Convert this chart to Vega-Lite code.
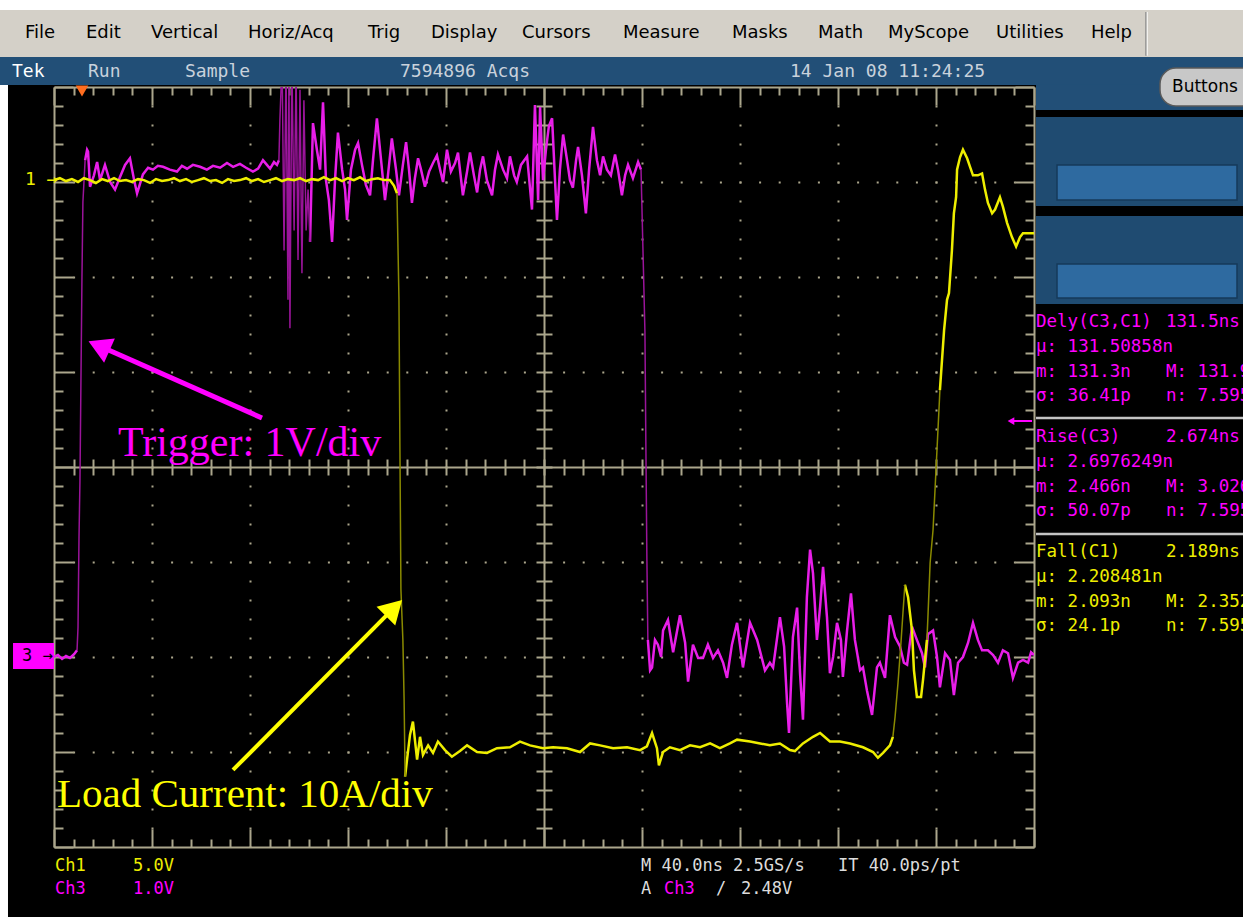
{
 "$schema": "https://vega.github.io/schema/vega-lite/v6.json",
 "width": 980, "height": 760,
 "autosize": {"type": "none"},
 "padding": {"left": 54, "top": 87, "right": 209, "bottom": 70},
 "background": "#000000",
 "data": {"values": [{}]},
 "config": {
  "view": {"stroke": null, "fill": "#000000"},
  "axis": {"domain": false, "ticks": false, "labels": false, "grid": false, "titleOpacity": 0},
  "text": {"font": "DejaVu Sans Mono", "fontSize": 18, "align": "left", "baseline": "middle"}
 },
 "datasets": {
  "ch1": [
   {"seg":1,"edge":false,"t":0,"v":3.02},{"seg":1,"edge":false,"t":2.4,"v":3.04},{"seg":1,"edge":false,"t":4.9,"v":3.01},{"seg":1,"edge":false,"t":7.3,"v":3.03},{"seg":1,"edge":false,"t":9.8,"v":3.0},{"seg":1,"edge":false,"t":12.2,"v":3.04},{"seg":1,"edge":false,"t":14.7,"v":3.02},{"seg":1,"edge":false,"t":17.1,"v":2.99},{"seg":1,"edge":false,"t":19.6,"v":3.03},{"seg":1,"edge":false,"t":22.0,"v":3.01},{"seg":1,"edge":false,"t":24.5,"v":3.04},{"seg":1,"edge":false,"t":26.9,"v":3.01},{"seg":1,"edge":false,"t":29.4,"v":3.02},{"seg":1,"edge":false,"t":31.8,"v":3.0},{"seg":1,"edge":false,"t":34.3,"v":3.03},{"seg":1,"edge":false,"t":36.7,"v":3.02},{"seg":1,"edge":false,"t":39.2,"v":2.99},{"seg":1,"edge":false,"t":41.6,"v":3.03},{"seg":1,"edge":false,"t":44.1,"v":3.01},{"seg":1,"edge":false,"t":46.5,"v":3.02},{"seg":1,"edge":false,"t":49.0,"v":3.04},{"seg":1,"edge":false,"t":51.4,"v":3.01},{"seg":1,"edge":false,"t":53.9,"v":3.03},{"seg":1,"edge":false,"t":56.3,"v":3.0},{"seg":1,"edge":false,"t":58.8,"v":3.02},{"seg":1,"edge":false,"t":61.2,"v":3.04},{"seg":1,"edge":false,"t":63.7,"v":3.01},{"seg":1,"edge":false,"t":66.1,"v":3.02},{"seg":1,"edge":false,"t":68.6,"v":2.99},{"seg":1,"edge":false,"t":71.0,"v":3.03},{"seg":1,"edge":false,"t":73.5,"v":3.01},{"seg":1,"edge":false,"t":75.9,"v":3.02},{"seg":1,"edge":false,"t":78.4,"v":3.04},{"seg":1,"edge":false,"t":80.8,"v":3.01},{"seg":1,"edge":false,"t":83.3,"v":3.03},{"seg":1,"edge":false,"t":85.7,"v":3.0},{"seg":1,"edge":false,"t":88.2,"v":3.02},{"seg":1,"edge":false,"t":90.6,"v":3.04},{"seg":1,"edge":false,"t":93.1,"v":3.01},{"seg":1,"edge":false,"t":95.5,"v":3.03},{"seg":1,"edge":false,"t":98.0,"v":3.02},{"seg":1,"edge":false,"t":100.4,"v":3.04},{"seg":1,"edge":false,"t":102.9,"v":3.01},{"seg":1,"edge":false,"t":105.3,"v":3.03},{"seg":1,"edge":false,"t":107.8,"v":3.02},{"seg":1,"edge":false,"t":110.2,"v":3.05},{"seg":1,"edge":false,"t":112.7,"v":3.02},{"seg":1,"edge":false,"t":115.1,"v":3.04},{"seg":1,"edge":false,"t":117.6,"v":3.01},{"seg":1,"edge":false,"t":120.0,"v":3.04},{"seg":1,"edge":false,"t":122.4,"v":3.02},{"seg":1,"edge":false,"t":124.9,"v":3.05},{"seg":1,"edge":false,"t":127.3,"v":3.01},{"seg":1,"edge":false,"t":129.8,"v":3.03},{"seg":1,"edge":false,"t":132.2,"v":3.04},{"seg":1,"edge":false,"t":134.7,"v":3.02},{"seg":1,"edge":false,"t":137.1,"v":3.02},{"seg":1,"edge":false,"t":138.8,"v":2.96},{"seg":1,"edge":false,"t":140.0,"v":2.88},
   {"seg":2,"edge":true,"t":140.0,"v":2.88},{"seg":2,"edge":true,"t":140.8,"v":1.76},{"seg":2,"edge":true,"t":141.2,"v":0.18},{"seg":2,"edge":true,"t":141.6,"v":-1.29},{"seg":2,"edge":true,"t":142.4,"v":-1.82},{"seg":2,"edge":true,"t":142.9,"v":-2.45},{"seg":2,"edge":true,"t":143.3,"v":-3.26},
   {"seg":3,"edge":false,"t":143.3,"v":-3.26},{"seg":3,"edge":false,"t":144.1,"v":-3.08},{"seg":3,"edge":false,"t":145.3,"v":-2.82},{"seg":3,"edge":false,"t":146.5,"v":-2.68},{"seg":3,"edge":false,"t":148.2,"v":-3.08},{"seg":3,"edge":false,"t":149.4,"v":-2.84},{"seg":3,"edge":false,"t":150.6,"v":-3.03},{"seg":3,"edge":false,"t":152.7,"v":-2.93},{"seg":3,"edge":false,"t":154.7,"v":-3.01},{"seg":3,"edge":false,"t":156.7,"v":-2.89},{"seg":3,"edge":false,"t":159.6,"v":-2.98},{"seg":3,"edge":false,"t":162.4,"v":-3.05},{"seg":3,"edge":false,"t":165.7,"v":-2.99},{"seg":3,"edge":false,"t":168.6,"v":-2.93},{"seg":3,"edge":false,"t":172.7,"v":-3.0},{"seg":3,"edge":false,"t":176.7,"v":-3.01},{"seg":3,"edge":false,"t":180.8,"v":-2.96},{"seg":3,"edge":false,"t":186.1,"v":-2.95},{"seg":3,"edge":false,"t":190.2,"v":-2.89},{"seg":3,"edge":false,"t":194.3,"v":-2.93},{"seg":3,"edge":false,"t":199.6,"v":-2.96},{"seg":3,"edge":false,"t":203.7,"v":-2.95},{"seg":3,"edge":false,"t":209.4,"v":-2.96},{"seg":3,"edge":false,"t":214.7,"v":-3.0},{"seg":3,"edge":false,"t":218.8,"v":-2.91},{"seg":3,"edge":false,"t":222.9,"v":-2.93},{"seg":3,"edge":false,"t":228.2,"v":-2.96},{"seg":3,"edge":false,"t":233.9,"v":-2.95},{"seg":3,"edge":false,"t":239.2,"v":-2.98},{"seg":3,"edge":false,"t":242.0,"v":-2.94},{"seg":3,"edge":false,"t":244.1,"v":-2.8},{"seg":3,"edge":false,"t":246.1,"v":-2.96},{"seg":3,"edge":false,"t":246.9,"v":-3.14},{"seg":3,"edge":false,"t":248.6,"v":-3.0},{"seg":3,"edge":false,"t":251.4,"v":-2.95},{"seg":3,"edge":false,"t":255.5,"v":-2.98},{"seg":3,"edge":false,"t":259.6,"v":-2.93},{"seg":3,"edge":false,"t":263.7,"v":-2.95},{"seg":3,"edge":false,"t":267.8,"v":-2.91},{"seg":3,"edge":false,"t":271.8,"v":-2.96},{"seg":3,"edge":false,"t":275.9,"v":-2.91},{"seg":3,"edge":false,"t":278.8,"v":-2.87},{"seg":3,"edge":false,"t":284.1,"v":-2.89},{"seg":3,"edge":false,"t":288.2,"v":-2.91},{"seg":3,"edge":false,"t":292.2,"v":-2.93},{"seg":3,"edge":false,"t":296.3,"v":-2.91},{"seg":3,"edge":false,"t":300.4,"v":-2.98},{"seg":3,"edge":false,"t":302.4,"v":-2.99},{"seg":3,"edge":false,"t":305.7,"v":-2.91},{"seg":3,"edge":false,"t":309.8,"v":-2.84},{"seg":3,"edge":false,"t":312.7,"v":-2.8},{"seg":3,"edge":false,"t":316.7,"v":-2.89},{"seg":3,"edge":false,"t":320.8,"v":-2.89},{"seg":3,"edge":false,"t":324.9,"v":-2.91},{"seg":3,"edge":false,"t":330.2,"v":-2.95},{"seg":3,"edge":false,"t":334.3,"v":-3.0},{"seg":3,"edge":false,"t":336.3,"v":-3.06},{"seg":3,"edge":false,"t":338.4,"v":-3.01},{"seg":3,"edge":false,"t":341.2,"v":-2.93},{"seg":3,"edge":false,"t":342.4,"v":-2.84},
   {"seg":4,"edge":true,"t":342.4,"v":-2.84},{"seg":4,"edge":true,"t":343.3,"v":-2.63},{"seg":4,"edge":true,"t":344.5,"v":-2.27},{"seg":4,"edge":true,"t":345.7,"v":-1.85},{"seg":4,"edge":true,"t":346.5,"v":-1.54},{"seg":4,"edge":true,"t":347.3,"v":-1.24},
   {"seg":5,"edge":false,"t":347.3,"v":-1.24},{"seg":5,"edge":false,"t":348.6,"v":-1.37},{"seg":5,"edge":false,"t":350.2,"v":-1.72},{"seg":5,"edge":false,"t":351.0,"v":-2.14},{"seg":5,"edge":false,"t":352.2,"v":-2.42},{"seg":5,"edge":false,"t":353.9,"v":-2.42},{"seg":5,"edge":false,"t":354.7,"v":-2.24},{"seg":5,"edge":false,"t":356.3,"v":-1.82},
   {"seg":6,"edge":true,"t":356.3,"v":-1.82},{"seg":6,"edge":true,"t":356.7,"v":-1.58},{"seg":6,"edge":true,"t":357.6,"v":-1.01},{"seg":6,"edge":true,"t":358.8,"v":-0.66},{"seg":6,"edge":true,"t":360.0,"v":-0.03},{"seg":6,"edge":true,"t":361.6,"v":0.81},
   {"seg":7,"edge":false,"t":361.6,"v":0.81},{"seg":7,"edge":false,"t":363.3,"v":1.44},{"seg":7,"edge":false,"t":364.5,"v":1.76},{"seg":7,"edge":false,"t":365.3,"v":1.83},{"seg":7,"edge":false,"t":366.5,"v":2.28},{"seg":7,"edge":false,"t":367.3,"v":2.67},{"seg":7,"edge":false,"t":368.2,"v":2.84},{"seg":7,"edge":false,"t":368.6,"v":3.13},{"seg":7,"edge":false,"t":369.8,"v":3.26},{"seg":7,"edge":false,"t":371.0,"v":3.34},{"seg":7,"edge":false,"t":372.7,"v":3.25},{"seg":7,"edge":false,"t":373.9,"v":3.16},{"seg":7,"edge":false,"t":375.1,"v":3.07},{"seg":7,"edge":false,"t":377.1,"v":3.07},{"seg":7,"edge":false,"t":378.8,"v":3.09},{"seg":7,"edge":false,"t":380.0,"v":2.92},{"seg":7,"edge":false,"t":381.2,"v":2.78},{"seg":7,"edge":false,"t":382.9,"v":2.67},{"seg":7,"edge":false,"t":384.1,"v":2.71},{"seg":7,"edge":false,"t":386.1,"v":2.84},{"seg":7,"edge":false,"t":387.3,"v":2.74},{"seg":7,"edge":false,"t":389.0,"v":2.57},{"seg":7,"edge":false,"t":391.0,"v":2.42},{"seg":7,"edge":false,"t":392.7,"v":2.32},{"seg":7,"edge":false,"t":394.3,"v":2.42},{"seg":7,"edge":false,"t":395.5,"v":2.46},{"seg":7,"edge":false,"t":398.4,"v":2.46},{"seg":7,"edge":false,"t":400,"v":2.46}
  ],
  "ch3": [
   {"seg":1,"edge":false,"t":0,"v":-2.0},{"seg":1,"edge":false,"t":1.6,"v":-1.98},{"seg":1,"edge":false,"t":3.3,"v":-2.02},{"seg":1,"edge":false,"t":4.9,"v":-1.99},{"seg":1,"edge":false,"t":6.5,"v":-2.01},{"seg":1,"edge":false,"t":8.2,"v":-1.97},{"seg":1,"edge":false,"t":9.4,"v":-1.93},
   {"seg":2,"edge":true,"t":9.4,"v":-1.93},{"seg":2,"edge":true,"t":9.8,"v":-1.69},{"seg":2,"edge":true,"t":10.2,"v":-0.75},{"seg":2,"edge":true,"t":10.6,"v":-0.14},{"seg":2,"edge":true,"t":11.4,"v":1.97},{"seg":2,"edge":true,"t":11.8,"v":2.79},{"seg":2,"edge":true,"t":12.7,"v":3.23},
   {"seg":3,"edge":false,"t":12.7,"v":3.23},{"seg":3,"edge":false,"t":13.5,"v":3.34},{"seg":3,"edge":false,"t":13.9,"v":3.32},{"seg":3,"edge":false,"t":14.7,"v":2.95},{"seg":3,"edge":false,"t":16.3,"v":3.07},{"seg":3,"edge":false,"t":17.6,"v":3.21},{"seg":3,"edge":false,"t":18.8,"v":3.02},{"seg":3,"edge":false,"t":20.8,"v":3.18},{"seg":3,"edge":false,"t":22.9,"v":3.0},{"seg":3,"edge":false,"t":24.9,"v":2.92},{"seg":3,"edge":false,"t":26.9,"v":3.05},{"seg":3,"edge":false,"t":29.0,"v":3.18},{"seg":3,"edge":false,"t":31.0,"v":3.25},{"seg":3,"edge":false,"t":32.7,"v":3.02},{"seg":3,"edge":false,"t":33.9,"v":2.88},{"seg":3,"edge":false,"t":36.3,"v":3.08},{"seg":3,"edge":false,"t":38.4,"v":3.15},{"seg":3,"edge":false,"t":40.4,"v":3.13},{"seg":3,"edge":false,"t":42.4,"v":3.17},{"seg":3,"edge":false,"t":44.5,"v":3.16},{"seg":3,"edge":false,"t":47.3,"v":3.13},{"seg":3,"edge":false,"t":50.2,"v":3.11},{"seg":3,"edge":false,"t":52.2,"v":3.17},{"seg":3,"edge":false,"t":54.3,"v":3.14},{"seg":3,"edge":false,"t":56.7,"v":3.18},{"seg":3,"edge":false,"t":59.6,"v":3.16},{"seg":3,"edge":false,"t":62.4,"v":3.13},{"seg":3,"edge":false,"t":64.9,"v":3.17},{"seg":3,"edge":false,"t":67.8,"v":3.15},{"seg":3,"edge":false,"t":70.6,"v":3.2},{"seg":3,"edge":false,"t":73.1,"v":3.16},{"seg":3,"edge":false,"t":75.9,"v":3.19},{"seg":3,"edge":false,"t":78.4,"v":3.15},{"seg":3,"edge":false,"t":81.2,"v":3.11},{"seg":3,"edge":false,"t":83.3,"v":3.14},{"seg":3,"edge":false,"t":85.3,"v":3.23},{"seg":3,"edge":false,"t":86.9,"v":3.18},{"seg":3,"edge":false,"t":88.2,"v":3.14},{"seg":3,"edge":false,"t":89.8,"v":3.21},{"seg":3,"edge":false,"t":91.0,"v":3.18},{"seg":3,"edge":false,"t":91.8,"v":3.23},
   {"seg":4,"edge":true,"t":91.8,"v":3.23},{"seg":4,"edge":true,"t":92.2,"v":3.65},{"seg":4,"edge":true,"t":93.1,"v":4.28},{"seg":4,"edge":true,"t":93.9,"v":2.28},{"seg":4,"edge":true,"t":94.7,"v":4.28},{"seg":4,"edge":true,"t":95.5,"v":1.76},{"seg":4,"edge":true,"t":95.9,"v":4.28},{"seg":4,"edge":true,"t":96.3,"v":1.46},{"seg":4,"edge":true,"t":97.1,"v":4.28},{"seg":4,"edge":true,"t":98.0,"v":2.49},{"seg":4,"edge":true,"t":98.8,"v":4.18},{"seg":4,"edge":true,"t":99.6,"v":2.18},{"seg":4,"edge":true,"t":100.4,"v":3.97},{"seg":4,"edge":true,"t":101.2,"v":2.04},{"seg":4,"edge":true,"t":102.0,"v":3.86},{"seg":4,"edge":true,"t":102.9,"v":2.49},{"seg":4,"edge":true,"t":103.7,"v":2.92},{"seg":4,"edge":true,"t":104.5,"v":2.37},
   {"seg":5,"edge":false,"t":104.5,"v":2.37},{"seg":5,"edge":false,"t":105.7,"v":3.62},{"seg":5,"edge":false,"t":107.3,"v":3.34},{"seg":5,"edge":false,"t":108.6,"v":3.13},{"seg":5,"edge":false,"t":109.8,"v":3.84},{"seg":5,"edge":false,"t":111.0,"v":3.02},{"seg":5,"edge":false,"t":112.2,"v":2.81},{"seg":5,"edge":false,"t":113.5,"v":2.37},{"seg":5,"edge":false,"t":114.7,"v":3.02},{"seg":5,"edge":false,"t":115.9,"v":3.52},{"seg":5,"edge":false,"t":117.6,"v":3.13},{"seg":5,"edge":false,"t":118.8,"v":2.92},{"seg":5,"edge":false,"t":119.6,"v":2.6},{"seg":5,"edge":false,"t":121.2,"v":3.13},{"seg":5,"edge":false,"t":122.9,"v":3.34},{"seg":5,"edge":false,"t":124.1,"v":3.41},{"seg":5,"edge":false,"t":125.7,"v":3.18},{"seg":5,"edge":false,"t":127.3,"v":2.97},{"seg":5,"edge":false,"t":129.0,"v":2.86},{"seg":5,"edge":false,"t":130.2,"v":3.23},{"seg":5,"edge":false,"t":131.8,"v":3.67},{"seg":5,"edge":false,"t":133.5,"v":3.23},{"seg":5,"edge":false,"t":135.1,"v":2.81},{"seg":5,"edge":false,"t":136.3,"v":3.07},{"seg":5,"edge":false,"t":137.9,"v":3.46},{"seg":5,"edge":false,"t":139.6,"v":3.13},{"seg":5,"edge":false,"t":140.8,"v":2.86},{"seg":5,"edge":false,"t":142.4,"v":3.18},{"seg":5,"edge":false,"t":143.7,"v":3.42},{"seg":5,"edge":false,"t":144.9,"v":3.13},{"seg":5,"edge":false,"t":146.1,"v":2.78},{"seg":5,"edge":false,"t":147.3,"v":3.04},{"seg":5,"edge":false,"t":148.6,"v":3.25},{"seg":5,"edge":false,"t":149.8,"v":3.13},{"seg":5,"edge":false,"t":151.4,"v":2.95},{"seg":5,"edge":false,"t":153.1,"v":3.11},{"seg":5,"edge":false,"t":154.7,"v":3.2},{"seg":5,"edge":false,"t":156.3,"v":3.28},{"seg":5,"edge":false,"t":157.6,"v":3.13},{"seg":5,"edge":false,"t":158.8,"v":3.0},{"seg":5,"edge":false,"t":160.4,"v":3.34},{"seg":5,"edge":false,"t":162.0,"v":3.11},{"seg":5,"edge":false,"t":163.7,"v":3.2},{"seg":5,"edge":false,"t":164.9,"v":3.31},{"seg":5,"edge":false,"t":166.9,"v":2.86},{"seg":5,"edge":false,"t":168.6,"v":3.11},{"seg":5,"edge":false,"t":169.8,"v":3.31},{"seg":5,"edge":false,"t":171.4,"v":3.07},{"seg":5,"edge":false,"t":172.7,"v":2.89},{"seg":5,"edge":false,"t":173.9,"v":3.13},{"seg":5,"edge":false,"t":175.1,"v":3.27},{"seg":5,"edge":false,"t":176.7,"v":3.02},{"seg":5,"edge":false,"t":178.8,"v":2.86},{"seg":5,"edge":false,"t":180.0,"v":3.13},{"seg":5,"edge":false,"t":181.2,"v":3.29},{"seg":5,"edge":false,"t":183.3,"v":3.13},{"seg":5,"edge":false,"t":184.9,"v":3.04},{"seg":5,"edge":false,"t":186.1,"v":3.27},{"seg":5,"edge":false,"t":187.8,"v":3.07},{"seg":5,"edge":false,"t":188.9,"v":3.0},{"seg":5,"edge":false,"t":190.6,"v":3.18},{"seg":5,"edge":false,"t":193.1,"v":3.27},{"seg":5,"edge":false,"t":195.1,"v":2.71},{"seg":5,"edge":false,"t":196.3,"v":3.81},{"seg":5,"edge":false,"t":197.6,"v":2.81},{"seg":5,"edge":false,"t":198.4,"v":3.79},{"seg":5,"edge":false,"t":199.6,"v":3.02},{"seg":5,"edge":false,"t":200.8,"v":3.34},{"seg":5,"edge":false,"t":202.0,"v":3.59},{"seg":5,"edge":false,"t":203.3,"v":3.67},{"seg":5,"edge":false,"t":204.5,"v":3.02},{"seg":5,"edge":false,"t":205.3,"v":2.6},{"seg":5,"edge":false,"t":206.5,"v":3.13},{"seg":5,"edge":false,"t":207.8,"v":3.5},{"seg":5,"edge":false,"t":209.4,"v":3.23},{"seg":5,"edge":false,"t":210.6,"v":3.02},{"seg":5,"edge":false,"t":211.8,"v":2.94},{"seg":5,"edge":false,"t":213.1,"v":3.23},{"seg":5,"edge":false,"t":213.9,"v":3.37},{"seg":5,"edge":false,"t":215.5,"v":3.07},{"seg":5,"edge":false,"t":217.1,"v":2.67},{"seg":5,"edge":false,"t":218.4,"v":3.13},{"seg":5,"edge":false,"t":220.0,"v":3.58},{"seg":5,"edge":false,"t":221.6,"v":3.23},{"seg":5,"edge":false,"t":222.9,"v":3.07},{"seg":5,"edge":false,"t":224.1,"v":3.27},{"seg":5,"edge":false,"t":225.7,"v":3.13},{"seg":5,"edge":false,"t":227.3,"v":3.07},{"seg":5,"edge":false,"t":229.0,"v":3.29},{"seg":5,"edge":false,"t":230.2,"v":3.13},{"seg":5,"edge":false,"t":231.8,"v":2.86},{"seg":5,"edge":false,"t":233.1,"v":3.07},{"seg":5,"edge":false,"t":234.3,"v":3.18},{"seg":5,"edge":false,"t":236.3,"v":3.04},{"seg":5,"edge":false,"t":238.4,"v":3.21},{"seg":5,"edge":false,"t":239.6,"v":3.13},
   {"seg":6,"edge":true,"t":239.6,"v":3.13},{"seg":6,"edge":true,"t":240.4,"v":2.28},{"seg":6,"edge":true,"t":241.2,"v":1.42},{"seg":6,"edge":true,"t":241.6,"v":0.18},{"seg":6,"edge":true,"t":242.0,"v":-0.98},{"seg":6,"edge":true,"t":242.4,"v":-1.82},
   {"seg":7,"edge":false,"t":242.4,"v":-1.82},{"seg":7,"edge":false,"t":243.3,"v":-2.14},{"seg":7,"edge":false,"t":244.1,"v":-2.11},{"seg":7,"edge":false,"t":245.3,"v":-1.82},{"seg":7,"edge":false,"t":246.5,"v":-1.87},{"seg":7,"edge":false,"t":247.8,"v":-2.0},{"seg":7,"edge":false,"t":248.6,"v":-1.72},{"seg":7,"edge":false,"t":250.6,"v":-1.61},{"seg":7,"edge":false,"t":252.7,"v":-1.95},{"seg":7,"edge":false,"t":255.5,"v":-1.56},{"seg":7,"edge":false,"t":257.6,"v":-1.85},{"seg":7,"edge":false,"t":258.8,"v":-2.26},{"seg":7,"edge":false,"t":260.8,"v":-1.87},{"seg":7,"edge":false,"t":262.9,"v":-2.01},{"seg":7,"edge":false,"t":264.9,"v":-2.01},{"seg":7,"edge":false,"t":266.9,"v":-1.87},{"seg":7,"edge":false,"t":269.0,"v":-2.01},{"seg":7,"edge":false,"t":271.0,"v":-1.93},{"seg":7,"edge":false,"t":273.1,"v":-2.06},{"seg":7,"edge":false,"t":274.7,"v":-2.22},{"seg":7,"edge":false,"t":276.7,"v":-1.87},{"seg":7,"edge":false,"t":278.8,"v":-1.64},{"seg":7,"edge":false,"t":281.2,"v":-2.11},{"seg":7,"edge":false,"t":284.1,"v":-1.64},{"seg":7,"edge":false,"t":287.0,"v":-1.82},{"seg":7,"edge":false,"t":290.2,"v":-2.14},{"seg":7,"edge":false,"t":292.2,"v":-2.06},{"seg":7,"edge":false,"t":293.5,"v":-2.11},{"seg":7,"edge":false,"t":296.3,"v":-1.58},{"seg":7,"edge":false,"t":298.0,"v":-1.89},{"seg":7,"edge":false,"t":299.2,"v":-2.48},{"seg":7,"edge":false,"t":300.0,"v":-2.8},{"seg":7,"edge":false,"t":301.6,"v":-1.79},{"seg":7,"edge":false,"t":303.3,"v":-1.48},{"seg":7,"edge":false,"t":304.5,"v":-2.17},{"seg":7,"edge":false,"t":305.7,"v":-2.66},{"seg":7,"edge":false,"t":307.3,"v":-1.37},{"seg":7,"edge":false,"t":308.6,"v":-0.87},{"seg":7,"edge":false,"t":309.8,"v":-1.12},{"seg":7,"edge":false,"t":311.4,"v":-1.82},{"seg":7,"edge":false,"t":312.7,"v":-1.47},{"seg":7,"edge":false,"t":313.9,"v":-1.05},{"seg":7,"edge":false,"t":315.5,"v":-1.58},{"seg":7,"edge":false,"t":316.7,"v":-2.17},{"seg":7,"edge":false,"t":318.0,"v":-2.0},{"seg":7,"edge":false,"t":319.6,"v":-1.64},{"seg":7,"edge":false,"t":321.2,"v":-1.82},{"seg":7,"edge":false,"t":322.0,"v":-2.21},{"seg":7,"edge":false,"t":323.7,"v":-1.72},{"seg":7,"edge":false,"t":325.3,"v":-1.33},{"seg":7,"edge":false,"t":326.9,"v":-1.82},{"seg":7,"edge":false,"t":329.0,"v":-2.14},{"seg":7,"edge":false,"t":330.2,"v":-2.11},{"seg":7,"edge":false,"t":331.8,"v":-2.35},{"seg":7,"edge":false,"t":333.9,"v":-2.61},{"seg":7,"edge":false,"t":335.9,"v":-2.11},{"seg":7,"edge":false,"t":337.1,"v":-2.06},{"seg":7,"edge":false,"t":339.2,"v":-2.22},{"seg":7,"edge":false,"t":341.2,"v":-1.56},{"seg":7,"edge":false,"t":343.3,"v":-1.79},{"seg":7,"edge":false,"t":345.3,"v":-1.89},{"seg":7,"edge":false,"t":346.9,"v":-2.06},{"seg":7,"edge":false,"t":348.2,"v":-2.08},{"seg":7,"edge":false,"t":350.2,"v":-1.68},{"seg":7,"edge":false,"t":352.2,"v":-1.82},{"seg":7,"edge":false,"t":354.3,"v":-1.96},{"seg":7,"edge":false,"t":355.5,"v":-2.11},{"seg":7,"edge":false,"t":356.7,"v":-1.76},{"seg":7,"edge":false,"t":358.8,"v":-1.72},{"seg":7,"edge":false,"t":360.4,"v":-2.0},{"seg":7,"edge":false,"t":361.6,"v":-2.32},{"seg":7,"edge":false,"t":363.7,"v":-1.96},{"seg":7,"edge":false,"t":365.7,"v":-2.03},{"seg":7,"edge":false,"t":367.3,"v":-2.4},{"seg":7,"edge":false,"t":369.0,"v":-2.06},{"seg":7,"edge":false,"t":371.0,"v":-2.0},{"seg":7,"edge":false,"t":373.1,"v":-1.85},{"seg":7,"edge":false,"t":375.1,"v":-1.64},{"seg":7,"edge":false,"t":377.1,"v":-1.82},{"seg":7,"edge":false,"t":378.8,"v":-1.93},{"seg":7,"edge":false,"t":381.2,"v":-1.93},{"seg":7,"edge":false,"t":383.3,"v":-1.98},{"seg":7,"edge":false,"t":385.3,"v":-2.06},{"seg":7,"edge":false,"t":387.3,"v":-1.93},{"seg":7,"edge":false,"t":389.4,"v":-1.96},{"seg":7,"edge":false,"t":391.4,"v":-2.22},{"seg":7,"edge":false,"t":393.5,"v":-2.06},{"seg":7,"edge":false,"t":395.5,"v":-2.03},{"seg":7,"edge":false,"t":397.6,"v":-2.06},{"seg":7,"edge":false,"t":398.8,"v":-1.95},{"seg":7,"edge":false,"t":400,"v":-1.98}
  ]
 },
 "resolve": {"axis": {"x": "independent", "y": "independent"}},
 "layer": [
  {"mark": {"type": "point", "opacity": 0},
   "encoding": {
    "x": {"datum": 0, "type": "quantitative", "scale": {"domain": [0, 400], "nice": false, "zero": false},
          "axis": {"orient": "bottom", "offset": 0, "values": [40,80,120,160,240,280,320,360], "grid": true, "gridColor": "#aba68c", "gridWidth": 2, "gridDash": [2, 17], "gridDashOffset": 1, "domain": false, "ticks": false, "labels": false, "title": null}},
    "y": {"datum": 0, "type": "quantitative", "scale": {"domain": [-4, 4], "nice": false, "zero": false},
          "axis": {"orient": "left", "offset": 0, "values": [-3,-2,-1,1,2,3], "grid": true, "gridColor": "#aba68c", "gridWidth": 2, "gridDash": [2, 17.6], "gridDashOffset": 1, "domain": false, "ticks": false, "labels": false, "title": null}}}},
  {"mark": {"type": "point", "opacity": 0},
   "encoding": {
    "x": {"datum": 0, "type": "quantitative", "scale": {"domain": [0, 400], "nice": false, "zero": false},
          "axis": {"orient": "bottom", "offset": -760, "values": [0,8,16,24,32,40,48,56,64,72,80,88,96,104,112,120,128,136,144,152,160,168,176,184,192,200,208,216,224,232,240,248,256,264,272,280,288,296,304,312,320,328,336,344,352,360,368,376,384,392,400], "domain": true, "domainColor": "#aba68c", "domainWidth": 2, "ticks": true, "tickColor": "#aba68c", "tickWidth": 2, "tickSize": {"condition": {"test": "datum.value % 40 === 0", "value": 18}, "value": 8}, "labels": false, "grid": false, "title": null}},
    "y": {"datum": 0, "type": "quantitative", "scale": {"domain": [-4, 4], "nice": false, "zero": false},
          "axis": {"orient": "left", "offset": -980, "values": [-4,-3.8,-3.6,-3.4,-3.2,-3,-2.8,-2.6,-2.4,-2.2,-2,-1.8,-1.6,-1.4,-1.2,-1,-0.8,-0.6,-0.4,-0.2,0,0.2,0.4,0.6,0.8,1,1.2,1.4,1.6,1.8,2,2.2,2.4,2.6,2.8,3,3.2,3.4,3.6,3.8,4], "domain": true, "domainColor": "#aba68c", "domainWidth": 2, "ticks": true, "tickColor": "#aba68c", "tickWidth": 2, "tickSize": {"condition": {"test": "abs(datum.value - round(datum.value)) < 0.01", "value": 19}, "value": 9}, "labels": false, "grid": false, "title": null}}}},
  {"mark": {"type": "point", "opacity": 0},
   "encoding": {
    "x": {"datum": 0, "type": "quantitative", "scale": {"domain": [0, 400], "nice": false, "zero": false},
          "axis": {"orient": "top", "offset": -760, "values": [0,8,16,24,32,40,48,56,64,72,80,88,96,104,112,120,128,136,144,152,160,168,176,184,192,200,208,216,224,232,240,248,256,264,272,280,288,296,304,312,320,328,336,344,352,360,368,376,384,392,400], "domain": true, "domainColor": "#aba68c", "domainWidth": 2, "ticks": true, "tickColor": "#aba68c", "tickWidth": 2, "tickSize": {"condition": {"test": "datum.value % 40 === 0", "value": 18}, "value": 8}, "labels": false, "grid": false, "title": null}},
    "y": {"datum": 0, "type": "quantitative", "scale": {"domain": [-4, 4], "nice": false, "zero": false},
          "axis": {"orient": "right", "offset": -980, "values": [-4,-3.8,-3.6,-3.4,-3.2,-3,-2.8,-2.6,-2.4,-2.2,-2,-1.8,-1.6,-1.4,-1.2,-1,-0.8,-0.6,-0.4,-0.2,0,0.2,0.4,0.6,0.8,1,1.2,1.4,1.6,1.8,2,2.2,2.4,2.6,2.8,3,3.2,3.4,3.6,3.8,4], "domain": true, "domainColor": "#aba68c", "domainWidth": 2, "ticks": true, "tickColor": "#aba68c", "tickWidth": 2, "tickSize": {"condition": {"test": "abs(datum.value - round(datum.value)) < 0.01", "value": 19}, "value": 9}, "labels": false, "grid": false, "title": null}}}},
  {"mark": {"type": "point", "opacity": 0},
   "encoding": {
    "x": {"datum": 0, "type": "quantitative", "scale": {"domain": [0, 400], "nice": false, "zero": false},
          "axis": {"orient": "bottom", "offset": -380, "values": [8,16,24,32,40,48,56,64,72,80,88,96,104,112,120,128,136,144,152,160,168,176,184,192,200,208,216,224,232,240,248,256,264,272,280,288,296,304,312,320,328,336,344,352,360,368,376,384,392], "domain": true, "domainColor": "#aba68c", "domainWidth": 2, "ticks": true, "tickColor": "#aba68c", "tickWidth": 2, "tickSize": 8, "labels": false, "grid": false, "title": null}},
    "y": {"datum": 0, "type": "quantitative", "scale": {"domain": [-4, 4], "nice": false, "zero": false},
          "axis": {"orient": "left", "offset": -490, "values": [-3.8,-3.6,-3.4,-3.2,-3,-2.8,-2.6,-2.4,-2.2,-2,-1.8,-1.6,-1.4,-1.2,-1,-0.8,-0.6,-0.4,-0.2,0,0.2,0.4,0.6,0.8,1,1.2,1.4,1.6,1.8,2,2.2,2.4,2.6,2.8,3,3.2,3.4,3.6,3.8], "domain": true, "domainColor": "#aba68c", "domainWidth": 2, "ticks": true, "tickColor": "#aba68c", "tickWidth": 2, "tickSize": 8, "labels": false, "grid": false, "title": null}}}},
  {"mark": {"type": "point", "opacity": 0},
   "encoding": {
    "x": {"datum": 0, "type": "quantitative", "scale": {"domain": [0, 400], "nice": false, "zero": false},
          "axis": {"orient": "top", "offset": -380, "values": [8,16,24,32,40,48,56,64,72,80,88,96,104,112,120,128,136,144,152,160,168,176,184,192,200,208,216,224,232,240,248,256,264,272,280,288,296,304,312,320,328,336,344,352,360,368,376,384,392], "domain": false, "ticks": true, "tickColor": "#aba68c", "tickWidth": 2, "tickSize": 8, "labels": false, "grid": false, "title": null}},
    "y": {"datum": 0, "type": "quantitative", "scale": {"domain": [-4, 4], "nice": false, "zero": false},
          "axis": {"orient": "right", "offset": -490, "values": [-3.8,-3.6,-3.4,-3.2,-3,-2.8,-2.6,-2.4,-2.2,-2,-1.8,-1.6,-1.4,-1.2,-1,-0.8,-0.6,-0.4,-0.2,0,0.2,0.4,0.6,0.8,1,1.2,1.4,1.6,1.8,2,2.2,2.4,2.6,2.8,3,3.2,3.4,3.6,3.8], "domain": false, "ticks": true, "tickColor": "#aba68c", "tickWidth": 2, "tickSize": 8, "labels": false, "grid": false, "title": null}}}},
  {"layer": [
   {"mark": {"type": "rect", "color": "#ffffff"}, "encoding": {"x": {"datum": -23, "type": "quantitative"}, "x2": {"datum": 486}, "y": {"datum": 5.0, "type": "quantitative"}, "y2": {"datum": 4.811}}},
   {"mark": {"type": "rect", "color": "#d4d0c8"}, "encoding": {"x": {"datum": -23, "type": "quantitative"}, "x2": {"datum": 486}, "y": {"datum": 4.811, "type": "quantitative"}, "y2": {"datum": 4.316}}},
   {"mark": {"type": "rect", "color": "#224f77"}, "encoding": {"x": {"datum": -23, "type": "quantitative"}, "x2": {"datum": 486}, "y": {"datum": 4.316, "type": "quantitative"}, "y2": {"datum": 4.021}}},
   {"mark": {"type": "rect", "color": "#224f77"}, "encoding": {"x": {"datum": 400.82, "type": "quantitative"}, "x2": {"datum": 486}, "y": {"datum": 4.03, "type": "quantitative"}, "y2": {"datum": 3.758}}},
   {"mark": {"type": "rect", "color": "#ffffff"}, "encoding": {"x": {"datum": -23, "type": "quantitative"}, "x2": {"datum": -18.78}, "y": {"datum": 4.021, "type": "quantitative"}, "y2": {"datum": -4.8}}},
   {"mark": {"type": "rule", "color": "#8c8c8c", "strokeWidth": 1.5}, "encoding": {"x": {"datum": 445.71, "type": "quantitative"}, "y": {"datum": 4.79, "type": "quantitative"}, "y2": {"datum": 4.33}}},
   {"mark": {"type": "rule", "color": "#ffffff", "strokeWidth": 1}, "encoding": {"x": {"datum": 446.2, "type": "quantitative"}, "y": {"datum": 4.79, "type": "quantitative"}, "y2": {"datum": 4.33}}},
   {"mark": {"type": "rect", "color": "#1f4b71"}, "encoding": {"x": {"datum": 400.82, "type": "quantitative"}, "x2": {"datum": 486}, "y": {"datum": 3.684, "type": "quantitative"}, "y2": {"datum": 2.747}}},
   {"mark": {"type": "rect", "fill": "#2e6aa0", "stroke": "#163a5a", "strokeWidth": 1.5}, "encoding": {"x": {"datum": 409.39, "type": "quantitative"}, "x2": {"datum": 482.86}, "y": {"datum": 3.179, "type": "quantitative"}, "y2": {"datum": 2.811}}},
   {"mark": {"type": "rect", "color": "#1f4b71"}, "encoding": {"x": {"datum": 400.82, "type": "quantitative"}, "x2": {"datum": 486}, "y": {"datum": 2.642, "type": "quantitative"}, "y2": {"datum": 1.716}}},
   {"mark": {"type": "rect", "fill": "#2e6aa0", "stroke": "#163a5a", "strokeWidth": 1.5}, "encoding": {"x": {"datum": 409.39, "type": "quantitative"}, "x2": {"datum": 482.86}, "y": {"datum": 2.137, "type": "quantitative"}, "y2": {"datum": 1.779}}},
   {"mark": {"type": "rect", "fill": "#c8c8c8", "stroke": "#5a5a5a", "strokeWidth": 1.5, "cornerRadius": 16}, "encoding": {"x": {"datum": 451.43, "type": "quantitative"}, "x2": {"datum": 492}, "y": {"datum": 4.2, "type": "quantitative"}, "y2": {"datum": 3.8}}},
   {"mark": {"type": "rect", "color": "#ff00ff"}, "encoding": {"x": {"datum": -16.73, "type": "quantitative"}, "x2": {"datum": 0}, "y": {"datum": -1.853, "type": "quantitative"}, "y2": {"datum": -2.126}}},
   {"mark": {"type": "rule", "color": "#c4c4c4", "strokeWidth": 2.5}, "encoding": {"x": {"datum": 400.82, "type": "quantitative"}, "x2": {"datum": 486}, "y": {"datum": 0.516, "type": "quantitative"}}},
   {"mark": {"type": "rule", "color": "#c4c4c4", "strokeWidth": 2.5}, "encoding": {"x": {"datum": 400.82, "type": "quantitative"}, "x2": {"datum": 486}, "y": {"datum": -0.705, "type": "quantitative"}}}
  ]},
  {"data": {"name": "ch3"}, "transform": [{"filter": "!datum.edge"}],
   "mark": {"type": "line", "color": "#e81ee8", "strokeWidth": 2.5, "clip": true},
   "encoding": {"x": {"field": "t", "type": "quantitative", "axis": null}, "y": {"field": "v", "type": "quantitative", "axis": null}, "detail": {"field": "seg", "type": "nominal"}}},
  {"data": {"name": "ch3"}, "transform": [{"filter": "datum.edge"}],
   "mark": {"type": "line", "color": "#9a149a", "strokeWidth": 1.5, "clip": true},
   "encoding": {"x": {"field": "t", "type": "quantitative", "axis": null}, "y": {"field": "v", "type": "quantitative", "axis": null}, "detail": {"field": "seg", "type": "nominal"}}},
  {"data": {"name": "ch1"}, "transform": [{"filter": "!datum.edge"}],
   "mark": {"type": "line", "color": "#eeee00", "strokeWidth": 2.5, "clip": true},
   "encoding": {"x": {"field": "t", "type": "quantitative", "axis": null}, "y": {"field": "v", "type": "quantitative", "axis": null}, "detail": {"field": "seg", "type": "nominal"}}},
  {"data": {"name": "ch1"}, "transform": [{"filter": "datum.edge"}],
   "mark": {"type": "line", "color": "#8a8a00", "strokeWidth": 1.5, "clip": true},
   "encoding": {"x": {"field": "t", "type": "quantitative", "axis": null}, "y": {"field": "v", "type": "quantitative", "axis": null}, "detail": {"field": "seg", "type": "nominal"}}},
  {"layer": [
   {"mark": {"type": "text", "text": "File", "font": "DejaVu Sans", "fontSize": 18, "color": "#000000"}, "encoding": {"x": {"datum": -11.84, "type": "quantitative"}, "y": {"datum": 4.568, "type": "quantitative"}}},
   {"mark": {"type": "text", "text": "Edit", "font": "DejaVu Sans", "fontSize": 18, "color": "#000000"}, "encoding": {"x": {"datum": 13.06, "type": "quantitative"}, "y": {"datum": 4.568, "type": "quantitative"}}},
   {"mark": {"type": "text", "text": "Vertical", "font": "DejaVu Sans", "fontSize": 18, "color": "#000000"}, "encoding": {"x": {"datum": 39.59, "type": "quantitative"}, "y": {"datum": 4.568, "type": "quantitative"}}},
   {"mark": {"type": "text", "text": "Horiz/Acq", "font": "DejaVu Sans", "fontSize": 18, "color": "#000000"}, "encoding": {"x": {"datum": 79.18, "type": "quantitative"}, "y": {"datum": 4.568, "type": "quantitative"}}},
   {"mark": {"type": "text", "text": "Trig", "font": "DejaVu Sans", "fontSize": 18, "color": "#000000"}, "encoding": {"x": {"datum": 128.16, "type": "quantitative"}, "y": {"datum": 4.568, "type": "quantitative"}}},
   {"mark": {"type": "text", "text": "Display", "font": "DejaVu Sans", "fontSize": 18, "color": "#000000"}, "encoding": {"x": {"datum": 153.88, "type": "quantitative"}, "y": {"datum": 4.568, "type": "quantitative"}}},
   {"mark": {"type": "text", "text": "Cursors", "font": "DejaVu Sans", "fontSize": 18, "color": "#000000"}, "encoding": {"x": {"datum": 191.02, "type": "quantitative"}, "y": {"datum": 4.568, "type": "quantitative"}}},
   {"mark": {"type": "text", "text": "Measure", "font": "DejaVu Sans", "fontSize": 18, "color": "#000000"}, "encoding": {"x": {"datum": 232.24, "type": "quantitative"}, "y": {"datum": 4.568, "type": "quantitative"}}},
   {"mark": {"type": "text", "text": "Masks", "font": "DejaVu Sans", "fontSize": 18, "color": "#000000"}, "encoding": {"x": {"datum": 276.73, "type": "quantitative"}, "y": {"datum": 4.568, "type": "quantitative"}}},
   {"mark": {"type": "text", "text": "Math", "font": "DejaVu Sans", "fontSize": 18, "color": "#000000"}, "encoding": {"x": {"datum": 311.84, "type": "quantitative"}, "y": {"datum": 4.568, "type": "quantitative"}}},
   {"mark": {"type": "text", "text": "MyScope", "font": "DejaVu Sans", "fontSize": 18, "color": "#000000"}, "encoding": {"x": {"datum": 340.41, "type": "quantitative"}, "y": {"datum": 4.568, "type": "quantitative"}}},
   {"mark": {"type": "text", "text": "Utilities", "font": "DejaVu Sans", "fontSize": 18, "color": "#000000"}, "encoding": {"x": {"datum": 384.49, "type": "quantitative"}, "y": {"datum": 4.568, "type": "quantitative"}}},
   {"mark": {"type": "text", "text": "Help", "font": "DejaVu Sans", "fontSize": 18, "color": "#000000"}, "encoding": {"x": {"datum": 423.27, "type": "quantitative"}, "y": {"datum": 4.568, "type": "quantitative"}}},
   {"mark": {"type": "text", "text": "Tek", "color": "#ffffff"}, "encoding": {"x": {"datum": -17.14, "type": "quantitative"}, "y": {"datum": 4.158, "type": "quantitative"}}},
   {"mark": {"type": "text", "text": "Run", "color": "#c9d2dc"}, "encoding": {"x": {"datum": 13.88, "type": "quantitative"}, "y": {"datum": 4.158, "type": "quantitative"}}},
   {"mark": {"type": "text", "text": "Sample", "color": "#c9d2dc"}, "encoding": {"x": {"datum": 53.47, "type": "quantitative"}, "y": {"datum": 4.158, "type": "quantitative"}}},
   {"mark": {"type": "text", "text": "7594896 Acqs", "color": "#c9d2dc"}, "encoding": {"x": {"datum": 141.22, "type": "quantitative"}, "y": {"datum": 4.158, "type": "quantitative"}}},
   {"mark": {"type": "text", "text": "14 Jan 08 11:24:25", "color": "#c9d2dc"}, "encoding": {"x": {"datum": 300.41, "type": "quantitative"}, "y": {"datum": 4.158, "type": "quantitative"}}},
   {"mark": {"type": "text", "text": "Buttons", "font": "DejaVu Sans", "fontSize": 17, "color": "#000000"}, "encoding": {"x": {"datum": 456.33, "type": "quantitative"}, "y": {"datum": 4.0, "type": "quantitative"}}},
   {"mark": {"type": "text", "text": ["Dely(C3,C1)", "μ: 131.50858n", "m: 131.3n", "σ: 36.41p"], "lineHeight": 24.8, "fontSize": 17.5, "color": "#ff00ff"}, "encoding": {"x": {"datum": 400.82, "type": "quantitative"}, "y": {"datum": 1.526, "type": "quantitative"}}},
   {"mark": {"type": "text", "text": "131.5ns", "fontSize": 17.5, "color": "#ff00ff"}, "encoding": {"x": {"datum": 453.88, "type": "quantitative"}, "y": {"datum": 1.526, "type": "quantitative"}}},
   {"mark": {"type": "text", "text": ["M: 131.9", "n: 7.595"], "lineHeight": 24.8, "fontSize": 17.5, "color": "#ff00ff"}, "encoding": {"x": {"datum": 453.88, "type": "quantitative"}, "y": {"datum": 1.004, "type": "quantitative"}}},
   {"mark": {"type": "text", "text": ["Rise(C3)", "μ: 2.6976249n", "m: 2.466n", "σ: 50.07p"], "lineHeight": 24.8, "fontSize": 17.5, "color": "#ff00ff"}, "encoding": {"x": {"datum": 400.82, "type": "quantitative"}, "y": {"datum": 0.316, "type": "quantitative"}}},
   {"mark": {"type": "text", "text": "2.674ns", "fontSize": 17.5, "color": "#ff00ff"}, "encoding": {"x": {"datum": 453.88, "type": "quantitative"}, "y": {"datum": 0.316, "type": "quantitative"}}},
   {"mark": {"type": "text", "text": ["M: 3.026", "n: 7.595"], "lineHeight": 24.8, "fontSize": 17.5, "color": "#ff00ff"}, "encoding": {"x": {"datum": 453.88, "type": "quantitative"}, "y": {"datum": -0.206, "type": "quantitative"}}},
   {"mark": {"type": "text", "text": ["Fall(C1)", "μ: 2.208481n", "m: 2.093n", "σ: 24.1p"], "lineHeight": 24.8, "fontSize": 17.5, "color": "#eeee00"}, "encoding": {"x": {"datum": 400.82, "type": "quantitative"}, "y": {"datum": -0.895, "type": "quantitative"}}},
   {"mark": {"type": "text", "text": "2.189ns", "fontSize": 17.5, "color": "#eeee00"}, "encoding": {"x": {"datum": 453.88, "type": "quantitative"}, "y": {"datum": -0.895, "type": "quantitative"}}},
   {"mark": {"type": "text", "text": ["M: 2.352", "n: 7.595"], "lineHeight": 24.8, "fontSize": 17.5, "color": "#eeee00"}, "encoding": {"x": {"datum": 453.88, "type": "quantitative"}, "y": {"datum": -1.417, "type": "quantitative"}}},
   {"mark": {"type": "text", "text": "Ch1", "fontSize": 17, "color": "#eeee00"}, "encoding": {"x": {"datum": 0.41, "type": "quantitative"}, "y": {"datum": -4.2, "type": "quantitative"}}},
   {"mark": {"type": "text", "text": "5.0V", "fontSize": 17, "color": "#eeee00"}, "encoding": {"x": {"datum": 32.24, "type": "quantitative"}, "y": {"datum": -4.2, "type": "quantitative"}}},
   {"mark": {"type": "text", "text": "Ch3", "fontSize": 17, "color": "#ff00ff"}, "encoding": {"x": {"datum": 0.41, "type": "quantitative"}, "y": {"datum": -4.442, "type": "quantitative"}}},
   {"mark": {"type": "text", "text": "1.0V", "fontSize": 17, "color": "#ff00ff"}, "encoding": {"x": {"datum": 32.24, "type": "quantitative"}, "y": {"datum": -4.442, "type": "quantitative"}}},
   {"mark": {"type": "text", "text": "M 40.0ns 2.5GS/s", "fontSize": 17, "color": "#dcdcdc"}, "encoding": {"x": {"datum": 239.59, "type": "quantitative"}, "y": {"datum": -4.2, "type": "quantitative"}}},
   {"mark": {"type": "text", "text": "IT 40.0ps/pt", "fontSize": 17, "color": "#dcdcdc"}, "encoding": {"x": {"datum": 320.0, "type": "quantitative"}, "y": {"datum": -4.2, "type": "quantitative"}}},
   {"mark": {"type": "text", "text": "A", "fontSize": 17, "color": "#dcdcdc"}, "encoding": {"x": {"datum": 239.59, "type": "quantitative"}, "y": {"datum": -4.442, "type": "quantitative"}}},
   {"mark": {"type": "text", "text": "Ch3", "fontSize": 17, "color": "#ff00ff"}, "encoding": {"x": {"datum": 248.98, "type": "quantitative"}, "y": {"datum": -4.442, "type": "quantitative"}}},
   {"mark": {"type": "text", "text": "/", "fontSize": 17, "color": "#dcdcdc"}, "encoding": {"x": {"datum": 270.2, "type": "quantitative"}, "y": {"datum": -4.442, "type": "quantitative"}}},
   {"mark": {"type": "text", "text": "2.48V", "fontSize": 17, "color": "#dcdcdc"}, "encoding": {"x": {"datum": 280.41, "type": "quantitative"}, "y": {"datum": -4.442, "type": "quantitative"}}},
   {"mark": {"type": "text", "text": "1 →", "color": "#eeee00"}, "encoding": {"x": {"datum": -11.84, "type": "quantitative"}, "y": {"datum": 3.021, "type": "quantitative"}}},
   {"mark": {"type": "text", "text": "3 →", "color": "#000000", "fontSize": 17}, "encoding": {"x": {"datum": -13.06, "type": "quantitative"}, "y": {"datum": -1.989, "type": "quantitative"}}},
   {"mark": {"type": "point", "shape": "triangle-down", "size": 160, "filled": true, "color": "#ff6d1f", "opacity": 1}, "encoding": {"x": {"datum": 11.43, "type": "quantitative"}, "y": {"datum": 3.958, "type": "quantitative"}}},
   {"mark": {"type": "rule", "color": "#ff00ff", "strokeWidth": 2}, "encoding": {"x": {"datum": 391.0, "type": "quantitative"}, "x2": {"datum": 399.2}, "y": {"datum": 0.484, "type": "quantitative"}}},
   {"mark": {"type": "point", "shape": "triangle-left", "size": 60, "filled": true, "color": "#ff00ff", "opacity": 1}, "encoding": {"x": {"datum": 390.6, "type": "quantitative"}, "y": {"datum": 0.484, "type": "quantitative"}}},
   {"mark": {"type": "text", "text": "Trigger: 1V/div", "font": "Liberation Serif", "fontSize": 42, "color": "#ff00ff", "baseline": "alphabetic"}, "encoding": {"x": {"datum": 26.12, "type": "quantitative"}, "y": {"datum": 0.116, "type": "quantitative"}}},
   {"mark": {"type": "text", "text": "Load Current: 10A/div", "font": "Liberation Serif", "fontSize": 41, "color": "#ffff00", "baseline": "alphabetic"}, "encoding": {"x": {"datum": 1.22, "type": "quantitative"}, "y": {"datum": -3.579, "type": "quantitative"}}},
   {"mark": {"type": "rule", "color": "#ff00ff", "strokeWidth": 5}, "encoding": {"x": {"datum": 84.9, "type": "quantitative"}, "y": {"datum": 0.516, "type": "quantitative"}, "x2": {"datum": 20.41}, "y2": {"datum": 1.253}}},
   {"mark": {"type": "point", "shape": "triangle-up", "angle": 294, "size": 700, "filled": true, "color": "#ff00ff", "opacity": 1}, "encoding": {"x": {"datum": 18.37, "type": "quantitative"}, "y": {"datum": 1.274, "type": "quantitative"}}},
   {"mark": {"type": "rule", "color": "#ffff00", "strokeWidth": 4}, "encoding": {"x": {"datum": 73.06, "type": "quantitative"}, "y": {"datum": -3.189, "type": "quantitative"}, "x2": {"datum": 136.33}, "y2": {"datum": -1.547}}},
   {"mark": {"type": "point", "shape": "triangle-up", "angle": 45, "size": 700, "filled": true, "color": "#ffff00", "opacity": 1}, "encoding": {"x": {"datum": 138.78, "type": "quantitative"}, "y": {"datum": -1.484, "type": "quantitative"}}}
  ]}
 ]
}
